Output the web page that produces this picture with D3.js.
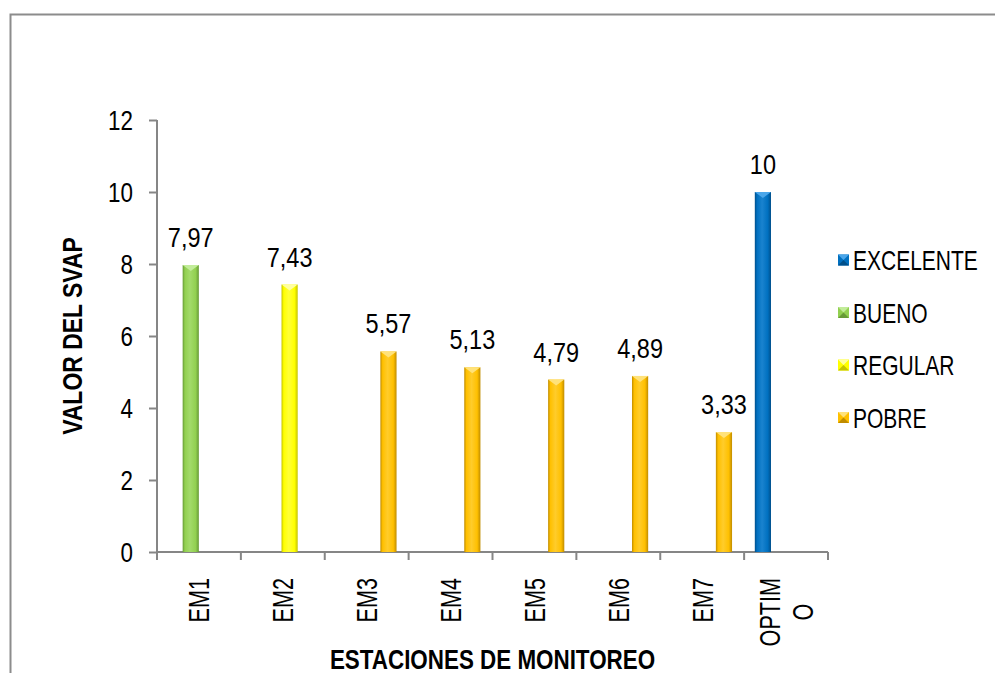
<!DOCTYPE html>
<html>
<head>
<meta charset="utf-8">
<script src="https://cdn.jsdelivr.net/npm/d3@7"></script>
<style>
  html, body { margin: 0; padding: 0; background: #ffffff; }
  svg { display: block; }
  text { font-family: "Liberation Sans Narrow", "Arial Narrow", "Liberation Sans", Arial, sans-serif; fill: #000; }
</style>
</head>
<body>
<div id="chart"></div>
<script>
// Station categories and the SVAP quality series
const categories = ["EM1", "EM2", "EM3", "EM4", "EM5", "EM6", "EM7", "OPTIMO"];
const seriesNames = ["EXCELENTE", "BUENO", "REGULAR", "POBRE"];
const excelente = [0, 0, 0, 0, 0, 0, 0, 10];
const bueno     = [7.97, 0, 0, 0, 0, 0, 0, 0];
const regular   = [0, 7.43, 0, 0, 0, 0, 0, 0];
const pobre     = [0, 0, 5.57, 5.13, 4.79, 4.89, 3.33, 0];
const yTicks = [0, 2, 4, 6, 8, 10, 12];
const yTitle = "VALOR DEL SVAP";
const xTitle = "ESTACIONES DE MONITOREO";

const seriesValues = [excelente, bueno, regular, pobre];
const palette = {
  EXCELENTE: { base: "#0070C0", light: "#4aa6ea", dark: "#004f8a" },
  BUENO:     { base: "#92D050", light: "#c2ec9a", dark: "#679a36" },
  REGULAR:   { base: "#FFFF00", light: "#ffffa0", dark: "#c4c400" },
  POBRE:     { base: "#FFC000", light: "#ffe27a", dark: "#c08c00" }
};

const W = 995, H = 673;
const svg = d3.select("#chart").append("svg").attr("width", W).attr("height", H);

// Narrow-face text: the sans face is condensed horizontally along its own writing direction
function narrowText(parent, opts) {
  const t = parent.append("text")
    .attr("font-size", opts.size)
    .attr("text-anchor", opts.anchor || "start")
    .attr("font-weight", opts.bold ? "bold" : null)
    .attr("transform", `translate(${opts.x},${opts.y})${opts.rotate ? " rotate(" + opts.rotate + ")" : ""} scale(${opts.sx},1)`);
  if (opts.dy) t.attr("dy", opts.dy);
  if (opts.text != null) t.text(opts.text);
  return t;
}

// outer chart-area frame (only its top and left edges fall inside the page)
svg.append("path")
  .attr("d", `M10.5,${H + 5} L10.5,14.5 L${W + 5},14.5`)
  .attr("fill", "none").attr("stroke", "#8c8c8c").attr("stroke-width", 2);

const plot = { left: 157, right: 828, top: 120, bottom: 552 };

const x0 = d3.scaleBand().domain(categories).range([plot.left, plot.right]).padding(0);
const x1 = d3.scaleBand().domain(seriesNames).range([0, x0.bandwidth()])
  .paddingInner(0).paddingOuter(0.8).align(0.45);
const y = d3.scaleLinear().domain([0, 12]).range([plot.bottom, plot.top]);

// gradients for bevelled bars
const defs = svg.append("defs");
seriesNames.forEach((s, i) => {
  const c = palette[s];
  const g = defs.append("linearGradient").attr("id", "grad" + i)
    .attr("x1", "0%").attr("x2", "100%").attr("y1", "0%").attr("y2", "0%");
  g.append("stop").attr("offset", "0%").attr("stop-color", c.dark);
  g.append("stop").attr("offset", "14%").attr("stop-color", c.base);
  g.append("stop").attr("offset", "45%").attr("stop-color", d3.interpolateRgb(c.base, c.light)(0.35));
  g.append("stop").attr("offset", "80%").attr("stop-color", c.base);
  g.append("stop").attr("offset", "100%").attr("stop-color", c.dark);
});

// y axis
const tickPad = 24;
const yAxis = d3.axisLeft(y).tickValues(yTicks).tickSize(8).tickPadding(tickPad - 8)
  .tickFormat(d3.format("d"));
const yg = svg.append("g").attr("transform", `translate(${plot.left},0)`).call(yAxis);
yg.select(".domain").attr("stroke", "#868686").attr("stroke-width", 2)
  .attr("d", `M0,${plot.top}V${plot.bottom + 8}`);
yg.selectAll(".tick line").attr("stroke", "#868686").attr("stroke-width", 2);
yg.selectAll(".tick text")
  .attr("font-size", 27)
  .attr("fill", "#000")
  .attr("x", 0)
  .attr("dy", "0.36em")
  .attr("transform", `translate(${-tickPad},0) scale(0.83,1)`);

// x axis: baseline plus boundary ticks between stations
const xg = svg.append("g").attr("transform", `translate(0,${plot.bottom})`)
  .call(d3.axisBottom(x0).tickSize(0).tickFormat(""));
xg.select(".domain").attr("stroke", "#868686").attr("stroke-width", 2)
  .attr("d", `M${plot.left},0H${plot.right}`);
const boundaries = categories.map(c => x0(c)).concat([x0.range()[1]]);
xg.selectAll(".bound").data(boundaries).enter().append("line")
  .attr("x1", d => d).attr("x2", d => d).attr("y1", 0).attr("y2", 8)
  .attr("stroke", "#868686").attr("stroke-width", 2);

// rotated station labels, wrapped when too long
const catSize = 30, catSx = 0.72, maxLabelLen = 80, lineH = 33, labelTop = 578;
const labelG = svg.append("g");
categories.forEach(cat => {
  const cx = x0(cat) + x0.bandwidth() / 2;
  const probe = labelG.append("text").attr("font-size", catSize);
  const lines = [];
  let cur = "";
  for (const ch of cat) {
    probe.text(cur + ch);
    if (probe.node().getComputedTextLength() * catSx > maxLabelLen && cur.length) {
      lines.push(cur); cur = ch;
    } else cur += ch;
  }
  lines.push(cur);
  probe.remove();
  const t = labelG.append("text").attr("font-size", catSize).attr("text-anchor", "middle");
  lines.forEach((ln, i) => {
    t.append("tspan").attr("x", 0).attr("y", (i - (lines.length - 1) / 2) * lineH)
      .attr("dy", "0.35em").text(ln);
  });
  const len = d3.max(t.selectAll("tspan").nodes(), n => n.getComputedTextLength()) * catSx;
  t.attr("transform", `translate(${cx},${labelTop + len / 2}) rotate(-90) scale(${catSx},1)`);
});

// bars
const barsG = svg.append("g");
seriesNames.forEach((s, si) => {
  const c = palette[s];
  const vals = seriesValues[si];
  categories.forEach((cat, ci) => {
    const v = vals[ci];
    if (!v) return;
    const bw = x1.bandwidth() + 1.2;
    const bx = x0(cat) + x1(s) + x1.bandwidth() / 2 - bw / 2 + 0.5;
    const by = y(v);
    const bh = y(0) - by;
    barsG.append("rect").attr("x", bx).attr("y", by).attr("width", bw).attr("height", bh)
      .attr("fill", `url(#grad${si})`);
    // bevel highlight at the top
    barsG.append("path")
      .attr("d", `M${bx},${by}L${bx + bw},${by}L${bx + bw / 2},${by + 6}Z`)
      .attr("fill", c.light);
    // value label
    narrowText(barsG, {
      x: bx + bw / 2, y: by - 18, size: 28, sx: 0.84, anchor: "middle",
      text: d3.format(".2~f")(v).replace(".", ",")
    });
  });
});

// legend
const legend = svg.append("g");
seriesNames.forEach((s, i) => {
  const c = palette[s];
  const cy = 260 + i * 52.5;
  const sx = 838, sz = 11, sy = cy - sz / 2;
  const g = legend.append("g");
  g.append("rect").attr("x", sx).attr("y", sy).attr("width", sz).attr("height", sz).attr("fill", c.base);
  g.append("path").attr("d", `M${sx},${sy}L${sx + sz},${sy}L${sx + sz / 2},${sy + sz / 2}Z`).attr("fill", c.light);
  g.append("path").attr("d", `M${sx},${sy + sz}L${sx + sz},${sy + sz}L${sx + sz / 2},${sy + sz / 2}Z`).attr("fill", c.dark);
  narrowText(g, { x: 853, y: cy, dy: "0.36em", size: 28, sx: 0.75, text: s });
});

// axis titles
narrowText(svg, {
  x: (plot.left + plot.right) / 2, y: 669, size: 27, sx: 0.83, anchor: "middle", bold: true, text: xTitle
});
narrowText(svg, {
  x: 82, y: (plot.top + plot.bottom) / 2, rotate: -90, size: 28, sx: 0.82, anchor: "middle", bold: true, text: yTitle
});
</script>
</body>
</html>
